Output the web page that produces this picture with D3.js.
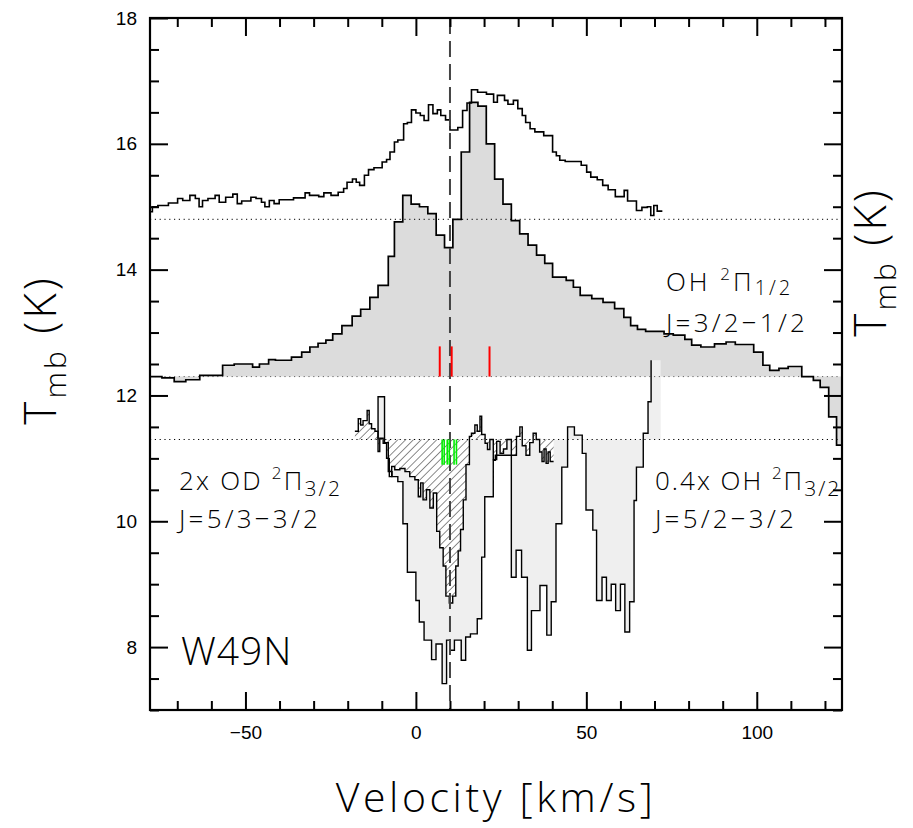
<!DOCTYPE html>
<html>
<head>
<meta charset="utf-8">
<script src="https://cdnjs.cloudflare.com/ajax/libs/d3/7.8.5/d3.min.js"></script>
<style>
  body { margin: 0; background: #fff; }
  .lbl { font-family: "Open Sans", "DejaVu Sans", sans-serif; font-weight: 300; fill: #000; }
  .tick text { font-family: "Liberation Sans", Arial, sans-serif; font-size: 19px; fill: #000; }
</style>
</head>
<body>
<svg id="chart" width="913" height="828"></svg>
<script>
// axis ranges and tick labels
const velRange = [-78, 125];
const tmbRange = [7, 18];
const xTickLabels = [-50, 0, 50, 100];
const yTickLabels = [8, 10, 12, 14, 16, 18];

// baselines of the three stacked spectra
const baselines = [14.8, 12.3, 11.3];
const systemicVel = 10;

// upper spectrum (no fill), channel edges + Tmb
const topEdges = [-78.0, -77.3, -75.7, -72.6, -69.9, -68.4, -66.3, -64.7, -63.6, -62.6,
  -61.0, -58.9, -57.7, -55.8, -53.7, -52.4, -51.1, -48.4, -46.9, -45.3,
  -44.3, -43.0, -41.6, -40.1, -35.9, -32.5, -31.2, -28.5, -27.0, -24.9,
  -22.8, -21.2, -20.2, -18.6, -17.5, -16.5, -15.1, -13.9, -12.3, -9.9,
  -8.6, -7.6, -6.3, -5.3, -3.6, -2.5, -1.3, 0.0, 1.3, 2.4,
  3.7, 5.0, 6.3, 7.3, 8.7, 10.0, 12.3, 13.7, 15.0, 16.3,
  18.1, 20.7, 22.8, 23.9, 26.0, 27.0, 28.6, 29.9, 31.2, 32.2,
  33.5, 34.9, 37.5, 40.1, 41.2, 42.2, 43.8, 48.5, 50.1, 51.3,
  53.2, 54.8, 56.4, 58.5, 61.1, 62.1, 64.7, 66.3, 67.9, 68.9,
  69.8, 70.8, 72.3];
const topTmb = [14.92, 15.0, 15.02, 15.06, 15.13, 15.1, 15.18, 15.13, 15.0, 15.1,
  15.13, 15.18, 15.07, 15.15, 15.2, 15.05, 15.09, 15.15, 15.13, 15.07,
  15.0, 15.1, 15.05, 15.11, 15.14, 15.22, 15.18, 15.16, 15.22, 15.18,
  15.23, 15.29, 15.39, 15.44, 15.39, 15.34, 15.5, 15.59, 15.62, 15.71,
  15.75, 15.87, 16.03, 16.06, 16.32, 16.34, 16.54, 16.49, 16.45, 16.37,
  16.62, 16.48, 16.54, 16.45, 16.38, 16.22, 16.26, 16.53, 16.65, 16.86,
  16.82, 16.79, 16.66, 16.77, 16.69, 16.63, 16.69, 16.56, 16.45, 16.34,
  16.24, 16.19, 16.13, 15.87, 15.81, 15.74, 15.72, 15.66, 15.55, 15.47,
  15.43, 15.34, 15.27, 15.16, 15.26, 15.09, 14.94, 14.99, 15.0, 14.86,
  15.02, 14.93];

// OH 2Pi1/2 J=3/2-1/2 (grey filled)
const oh12Edges = [-78, -74.5, -70.9, -67.5, -63.4, -56.7, -53.3, -47.9, -45.9, -43.2,
  -41.2, -36.5, -33.5, -31.1, -28.7, -26.4, -24.4, -21.7, -18.7, -16.2,
  -13.5, -11.1, -8.1, -6.3, -3.85, -1.4, 1.05, 3.5, 5.95, 8.4,
  10.85, 13.3, 15.75, 18.2, 20.65, 23.1, 25.55, 28, 30.45, 32.9,
  35.4, 37.8, 40.1, 44.1, 46.2, 48.2, 51.6, 54.9, 58.3, 61.0,
  63.0, 65.0, 67.4, 72.8, 75.5, 78.9, 80.9, 83.6, 87.6, 91.0,
  93.7, 99.1, 101.8, 103.8, 106.5, 109.2, 113.2, 116.6, 118.6, 121.1,
  123.4, 125];
const oh12Tmb = [12.3, 12.28, 12.22, 12.25, 12.32, 12.48, 12.5, 12.45, 12.5, 12.57,
  12.56, 12.61, 12.69, 12.77, 12.83, 12.88, 12.98, 13.11, 13.26, 13.37,
  13.56, 13.75, 14.21, 14.76, 15.18, 15.04, 15.0, 14.89, 14.55, 14.35,
  14.8, 15.87, 16.66, 16.6, 16.0, 15.44, 15.04, 14.78, 14.57, 14.39,
  14.23, 14.1, 13.88, 13.83, 13.72, 13.59, 13.54, 13.48, 13.38, 13.24,
  13.11, 13.05, 13.02, 12.98, 12.96, 12.89, 12.8, 12.77, 12.82, 12.85,
  12.81, 12.69, 12.48, 12.4, 12.43, 12.46, 12.3, 12.24, 12.13, 11.66,
  11.21];

// 0.4x OH 2Pi3/2 J=5/2-3/2 (light grey)
const oh32Edges = [-11.1, -9.2, -8.1, -7.0, -5.3, -3.8, -2.5, 0.0, 1.0, 2.4,
  4.6, 5.9, 7.7, 9.0, 10.0, 11.3, 13.3, 14.6, 16.0, 18.0,
  19.3, 20.2, 22.7, 23.3, 28.0, 29.4, 31.0, 32.7, 33.9, 36.4,
  38.4, 39.7, 41.1, 42.8, 44.5, 46.5, 48.8, 49.9, 51.9, 53.0,
  54.6, 55.9, 57.3, 58.6, 60.0, 61.3, 62.7, 64.0, 64.7, 66.7,
  68.1, 69.0, 71.8];
const oh32Tmb = [11.98, 11.25, 10.79, 10.71, 10.63, 9.96, 9.19, 8.74, 8.4, 8.11,
  7.8, 8.05, 7.42, 8.11, 7.95, 8.11, 7.79, 8.16, 8.21, 8.45,
  9.43, 10.39, 10.97, 11.05, 9.11, 9.54, 9.11, 7.95, 8.58, 8.98,
  8.19, 8.72, 9.96, 10.86, 11.5, 11.37, 11.08, 10.18, 9.86, 8.74,
  9.11, 8.74, 9.0, 8.58, 9.0, 8.24, 8.72, 10.33, 10.86, 11.4,
  11.9, 12.56];

// 2x OD 2Pi3/2 J=5/3-3/2 (hatched)
const odEdges = [-17.9, -16.9, -16.2, -15.5, -14.3, -13.7, -13.0, -12.0, -11.1, -10.6,
  -9.6, -8.6, -7.8, -7.1, -6.2, -4.7, -3.2, -1.8, -0.3, 0.7,
  1.4, 2.1, 3.1, 4.1, 5.1, 6.1, 7.0, 8.0, 8.8, 9.8,
  10.8, 11.7, 12.4, 13.1, 13.9, 14.7, 15.7, 16.3, 17.3, 18.0,
  18.8, 19.3, 20.3, 21.0, 21.7, 22.7, 23.7, 24.7, 25.7, 26.7,
  28.0, 29.5, 30.5, 31.2, 32.3, 33.4, 34.4, 35.3, 36.3, 37.0,
  37.6, 38.2, 38.8, 39.4, 40.4];
const odTmb = [11.43, 11.63, 11.53, 11.6, 11.76, 11.55, 11.47, 11.43, 11.11, 11.32,
  11.24, 11.0, 10.71, 10.87, 10.82, 10.84, 10.79, 10.71, 10.66, 10.39,
  10.61, 10.34, 10.5, 10.21, 10.45, 9.84, 9.58, 9.29, 8.81, 8.7,
  8.81, 9.29, 9.53, 9.87, 10.34, 10.9, 11.35, 11.4, 11.53, 11.43,
  11.67, 11.38, 11.24, 11.14, 11.3, 10.98, 11.27, 11.08, 11.15, 11.3,
  11.05, 11.35, 11.5, 11.2, 11.05, 11.25, 11.4, 11.3, 11.1, 10.95,
  11.15, 10.92, 11.1, 10.95];

// component markers
const redMarks = [7.0, 10.5, 21.6];
const redSpan = [12.3, 12.78];
const greenMarks = [7.7, 8.3, 9.2, 9.8, 11.2, 11.9];
const greenSpan = [11.3, 10.9];

const margin = { top: 18, right: 71, bottom: 118, left: 150 };
const width = 913 - margin.left - margin.right;
const height = 828 - margin.top - margin.bottom;

const svg = d3.select("#chart");
const defs = svg.append("defs");
const hatch = defs.append("pattern")
  .attr("id", "hatch")
  .attr("patternUnits", "userSpaceOnUse")
  .attr("width", 5.5).attr("height", 5.5)
  .attr("patternTransform", "rotate(45)");
hatch.append("line")
  .attr("x1", 0).attr("y1", 0).attr("x2", 0).attr("y2", 5.5)
  .attr("stroke", "#000").attr("stroke-width", 0.9);
defs.append("clipPath").attr("id", "plotclip")
  .append("rect").attr("width", width).attr("height", height);

const g = svg.append("g")
  .attr("transform", "translate(" + margin.left + "," + margin.top + ")");

const x = d3.scaleLinear().domain(velRange).range([0, width]);
const y = d3.scaleLinear().domain(tmbRange).range([height, 0]);

// step points: each edge gets the value of the channel that starts there
const steps = (edges, vals) => edges.map((e, i) => [e, vals[Math.min(i, vals.length - 1)]]);
const stepLine = d3.line().x(d => x(d[0])).y(d => y(d[1])).curve(d3.curveStepAfter);
const stepArea = base => d3.area().x(d => x(d[0])).y0(y(base)).y1(d => y(d[1])).curve(d3.curveStepAfter);

const plot = g.append("g").attr("clip-path", "url(#plotclip)");

const topPts = steps(topEdges, topTmb);
const oh12Pts = steps(oh12Edges, oh12Tmb);
const oh32Pts = steps(oh32Edges, oh32Tmb);
const odPts = steps(odEdges, odTmb);

plot.append("path").attr("d", stepArea(baselines[1])(oh12Pts)).attr("fill", "#dcdcdc");
plot.append("path").attr("d", stepArea(baselines[2])(oh32Pts)).attr("fill", "#efefef");
plot.append("path").attr("d", stepArea(baselines[2])(odPts)).attr("fill", "#fff");
plot.append("path").attr("d", stepArea(baselines[2])(odPts)).attr("fill", "url(#hatch)");

// dotted baselines
plot.selectAll(".base")
  .data(baselines)
  .enter()
  .append("line")
  .attr("x1", 0).attr("x2", width)
  .attr("y1", d => y(d)).attr("y2", d => y(d))
  .attr("stroke", (d, i) => i === 1 ? "#666" : "#000")
  .attr("stroke-width", 1)
  .attr("stroke-dasharray", "1.2,3.6");

const drawLine = (pts, sw) => plot.append("path")
  .attr("d", stepLine(pts))
  .attr("fill", "none").attr("stroke", "#000")
  .attr("stroke-width", sw).attr("stroke-linejoin", "miter");

drawLine(topPts, 1.6);
drawLine(oh12Pts, 1.7);
drawLine([[oh32Edges[0], baselines[2]]].concat(oh32Pts.slice(0, -1)), 1.4);
drawLine(odPts, 1.4);

plot.append("line")
  .attr("x1", x(systemicVel)).attr("x2", x(systemicVel))
  .attr("y1", 0).attr("y2", height)
  .attr("stroke", "#444").attr("stroke-width", 2)
  .attr("stroke-dasharray", "16,7");

plot.selectAll(".red")
  .data(redMarks)
  .enter()
  .append("line")
  .attr("x1", d => x(d)).attr("x2", d => x(d))
  .attr("y1", y(redSpan[0])).attr("y2", y(redSpan[1]))
  .attr("stroke", "#ff0000").attr("stroke-width", 2);

plot.selectAll(".green")
  .data(greenMarks)
  .enter()
  .append("line")
  .attr("x1", d => x(d)).attr("x2", d => x(d))
  .attr("y1", y(greenSpan[0])).attr("y2", y(greenSpan[1]))
  .attr("stroke", "#00ee00").attr("stroke-width", 1.6);

// axes: inward ticks on all four sides
const minus = d => (d < 0 ? "\u2212" + Math.abs(d) : d);
const xMinor = d3.range(-70, 125, 10).filter(d => !xTickLabels.includes(d));
const yMinor = d3.range(7, 18, 0.5).filter(d => !yTickLabels.includes(d));

const ax = (gen, vals, size, labels, pad) => gen.tickValues(vals).tickSize(size)
  .tickPadding(pad).tickFormat(labels ? minus : "");

g.append("g").attr("transform", "translate(0," + height + ")")
  .call(ax(d3.axisBottom(x), xTickLabels, -18, true, 16));
g.append("g").attr("transform", "translate(0," + height + ")")
  .call(ax(d3.axisBottom(x), xMinor, -9, false, 0));
g.append("g").call(ax(d3.axisTop(x), xTickLabels, -18, false, 0));
g.append("g").call(ax(d3.axisTop(x), xMinor, -9, false, 0));
g.append("g").call(ax(d3.axisLeft(y), yTickLabels, -18, true, 13));
g.append("g").call(ax(d3.axisLeft(y), yMinor, -9, false, 0));
g.append("g").attr("transform", "translate(" + width + ",0)")
  .call(ax(d3.axisRight(y), yTickLabels, -18, false, 0));
g.append("g").attr("transform", "translate(" + width + ",0)")
  .call(ax(d3.axisRight(y), yMinor, -9, false, 0));
g.selectAll(".domain").remove();
g.selectAll(".tick line").attr("stroke", "#000").attr("stroke-width", 2);

g.append("rect")
  .attr("width", width).attr("height", height)
  .attr("fill", "none").attr("stroke", "#000").attr("stroke-width", 2.2);

// labels
const label = (parent, px, py, size, parts, ls) => {
  const t = parent.append("text").attr("class", "lbl")
    .attr("x", px).attr("y", py).attr("font-size", size)
    .attr("letter-spacing", ls);
  parts.forEach(p => t.append("tspan").attr("font-size", p[1] || size).attr("dy", p[2] || 0).text(p[0]));
  return t;
};

const molecule = name => [[name + " "], ["2", 17, -11], ["\u03a0", 26, 11]];
label(svg, 666, 291, 26, molecule("OH").concat([["1/2", 20, 4]]), 3);
label(svg, 666, 332, 26, [["J=3/2\u22121/2"]], 3.2);
label(svg, 179, 490, 26, molecule("2x OD").concat([["3/2", 21, 6]]), 2.2);
label(svg, 179, 528, 26, [["J=5/3\u22123/2"]], 3.2);
label(svg, 655, 490, 26, molecule("0.4x OH").concat([["3/2", 21, 6]]), 2);
label(svg, 655, 528, 26, [["J=5/2\u22123/2"]], 3.2);
label(svg, 181, 665, 39, [["W49N"]], 1);

label(svg, 496, 812, 41, [["Velocity [km/s]"]], 3.6).attr("text-anchor", "middle");

const tmbLabel = (px, py) => label(svg, 0, 0, 44, [["T"], ["mb", 30, 10], [" (K)", 44, -10]], 3)
  .attr("text-anchor", "middle")
  .attr("transform", "translate(" + px + "," + py + ") rotate(-90)");
tmbLabel(56, 350);
tmbLabel(886, 262);
</script>
</body>
</html>
